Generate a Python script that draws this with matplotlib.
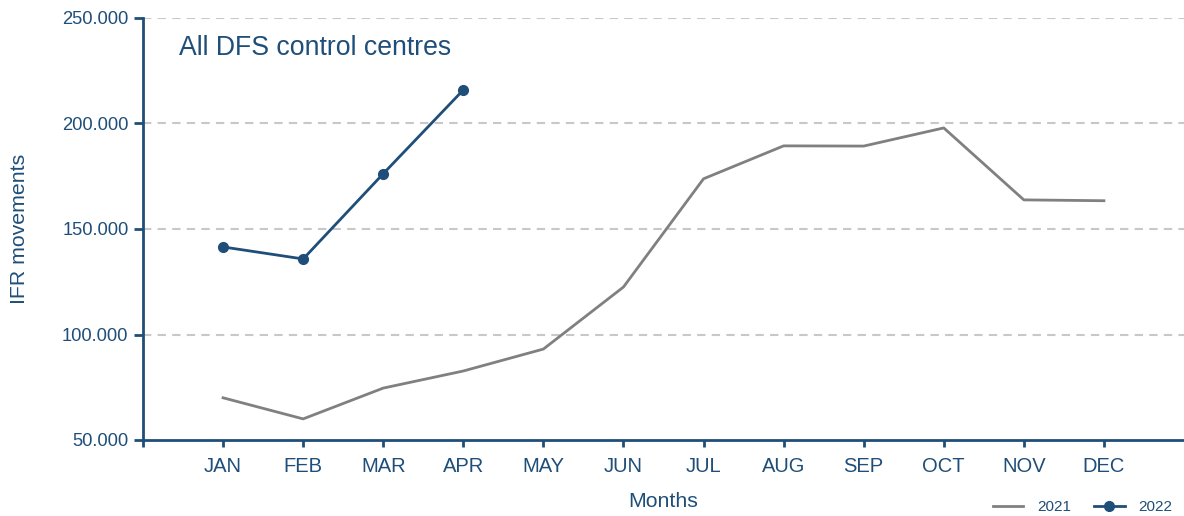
import numpy as np
import matplotlib
matplotlib.use("Agg")
import matplotlib.pyplot as plt
from matplotlib.ticker import FuncFormatter

# === DATA ===
months = ["JAN", "FEB", "MAR", "APR", "MAY", "JUN", "JUL", "AUG", "SEP", "OCT", "NOV", "DEC"]
ifr_2021 = [70000, 60000, 74600, 82700, 93100, 122500, 173800, 189400, 189300, 197900, 163800, 163400]
ifr_2022 = [141500, 135800, 176200, 215900]

# === STYLE ===
navy = "#1f4e79"
grey = "#808080"
plt.rcParams["font.family"] = ["Liberation Sans", "DejaVu Sans"]

fig = plt.figure(figsize=(11.84, 5.16), dpi=100)
ax = fig.add_axes([143 / 1184, 1 - 440 / 516, 1 - 143 / 1184, (440 - 18) / 516])

x21 = np.arange(1, len(ifr_2021) + 1)
x22 = np.arange(1, len(ifr_2022) + 1)
ax.plot(x21, ifr_2021, color=grey, lw=2, label="2021")
ax.plot(x22, ifr_2022, color=navy, lw=2, marker="o", ms=7, label="2022")

ax.set_xlim(0, 13)
ax.set_ylim(50000, 250000)
ax.set_yticks([50000, 100000, 150000, 200000, 250000])
ax.yaxis.set_major_formatter(FuncFormatter(lambda v, p: f"{v:,.0f}".replace(",", ".")))
ax.set_xticks(np.arange(0, 13))
ax.set_xticklabels([""] + months)

for y in [100000, 150000, 200000, 250000]:
    ax.axhline(y, color="#c8c8c8", lw=1.5, ls=(0, (4, 3)), zorder=0)

for s in ["top", "right"]:
    ax.spines[s].set_visible(False)
for s in ["left", "bottom"]:
    ax.spines[s].set_color(navy)
    ax.spines[s].set_linewidth(2)

ax.tick_params(axis="y", colors=navy, labelsize=13.2, length=6.5, width=2, direction="out", pad=4)
ax.tick_params(axis="x", colors=navy, labelsize=14.5, length=5, width=2, direction="out", pad=7)

ax.set_xlabel("Months", color=navy, fontsize=15.3, labelpad=12)
ax.set_ylabel("IFR movements", color=navy, fontsize=15.3, labelpad=24)

ax.text(0.035, 0.93, "All DFS control centres", transform=ax.transAxes,
        color=navy, fontsize=19.2, va="center", ha="left")

leg = ax.legend(loc="lower right", bbox_to_anchor=(1.002, -0.208), ncol=2, frameon=False,
                fontsize=11, handlelength=2.0, columnspacing=1.5, handletextpad=0.9)
for t in leg.get_texts():
    t.set_color(navy)

fig.savefig("out.png", dpi=100)
